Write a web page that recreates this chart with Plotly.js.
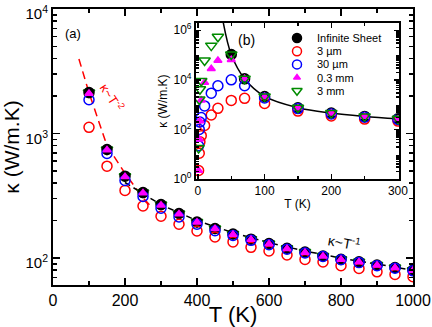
<!DOCTYPE html>
<html>
<head>
<meta charset="utf-8">
<script src="https://cdn.plot.ly/plotly-3.0.1.min.js"></script>
<style>
  html, body { margin: 0; padding: 0; background: #fff; }
  #chart { width: 432px; height: 327px; }
</style>
</head>
<body>
<div id="chart"></div>
<script>
// temperatures (K)
var temps = [1, 2, 3, 5, 10, 20, 30, 50, 70, 100, 150, 200, 250, 300, 350, 400, 450, 500,
             550, 600, 650, 700, 750, 800, 850, 900, 950, 1000];

// thermal conductivity (W/m.K)
var kInfinite = [null, null, null, null, null, null, null, 105000, 11000, 2135, 745, 455, 336, 269,
                 228, 195, 173, 156, 142, 131, 120, 112, 104, 98, 93.4, 88, 84, 80];
var k3um = [2.2, 11, 32, 56, 145, 380, 710, 1480, 1800, 1123, 548, 350, 262, 217,
            187, 165, 148, 135, 122, 114, 106, 97.6, 93, 87, 82.5, 77.6, 74, 71];
var k30um = [22, 100, 200, 300, 890, 2900, 5800, 10000, 5800, 1870, 692, 421, 313, 252,
             214, 187, 166, 152, 139, 128, 118, 110, 103, 97, 92, 87, 83, 79];
var k03mm = [2.2, 40, 220, 1500, 7900, 28000, 60000, 65000, 11000, 2100, 740, 450, 333, 266,
             226, 194, 172, 155, 141, 130, 119, 111, 103.5, 97.5, 93, 87.7, 83.7, 79.7];
var k3mm = [18, 1600, 4200, 9000, 60000, 240000, 550000, 105000, 11000, 2135, 745, 455, 336, 269,
            228, 195, 173, 156, 142, 131, 120, 112, 104, 98, 93.4, 88, 84, 80];

// guide lines
var fitT2_T = [72, 100, 150, 200, 250, 275];
var fitT2_k = [3980, 2130, 800, 480, 305, 255];
var fitT1_T = [200, 300, 400, 500, 600, 700, 800, 900, 1000];
var fitT1_k = [405, 268, 200, 160, 133, 114, 100, 89, 80];
var sheetLineT = [36, 50, 70, 100, 150, 200, 250, 300];
var sheetLineK = [4000000, 105000, 11000, 2135, 745, 455, 336, 269];

var FONT = 'Arial, "Liberation Sans", sans-serif';

var series = [
  {name: 'Infinite Sheet', k: kInfinite, sym: 'circle', size: 10, color: '#000000'},
  {name: '3 \u00b5m', k: k3um, sym: 'circle-open', size: 10, color: '#ff0000'},
  {name: '30 \u00b5m', k: k30um, sym: 'circle-open', size: 10, color: '#0000ff'},
  {name: '0.3 mm', k: k03mm, sym: 'triangle-up', size: 7, color: '#ff00ff'},
  {name: '3 mm', k: k3mm, sym: 'triangle-down-open', size: 10, color: '#008b00'}
];

// plot area in pixels, inset domain
var M = {l: 53, r: 19, t: 9, b: 42};
var PW = 432 - M.l - M.r, PH = 327 - M.t - M.b;
var insetX = [0.397, 0.961], insetY = [0.384, 0.949];

function pick(arr, lo, hi) {
  var xs = [], ys = [];
  for (var i = 0; i < temps.length; i++) {
    if (temps[i] >= lo && temps[i] <= hi && arr[i] != null) { xs.push(temps[i]); ys.push(arr[i]); }
  }
  return {x: xs, y: ys};
}

// minor log ticks 2..9 in each decade
function logMinor(d0, d1) {
  var v = [];
  for (var d = d0; d < d1; d++) for (var m = 2; m <= 9; m++) v.push(m * Math.pow(10, d));
  return v;
}

var data = [];

// main panel
data.push({x: fitT2_T, y: fitT2_k, mode: 'lines', line: {color: '#ff0000', dash: '8px,5px', width: 1.5},
           showlegend: false});
data.push({x: fitT1_T, y: fitT1_k, mode: 'lines', line: {color: '#000000', dash: '6px,4px', width: 1.5},
           showlegend: false});
[4, 0, 1, 2, 3].forEach(function (i) {
  var s = series[i], p = pick(s.k, 100, 1000);
  data.push({x: p.x, y: p.y, mode: 'markers', showlegend: false,
    marker: {symbol: s.sym, size: s.size, color: s.color, line: {color: s.color, width: 1.5}}});
});

// inset
data.push({x: sheetLineT, y: sheetLineK, xaxis: 'x2', yaxis: 'y2', mode: 'lines',
           line: {color: '#000000', width: 1.5, shape: 'spline'}, showlegend: false});
series.forEach(function (s) {
  var p = pick(s.k, 0, 300);
  data.push({x: p.x, y: p.y, xaxis: 'x2', yaxis: 'y2', mode: 'markers', name: s.name, showlegend: false,
    marker: {symbol: s.sym, size: s.size, color: s.color, line: {color: s.color, width: 1.5}}});
});

// legend of the inset (compact rows), keys drawn on a pixel-scaled overlay of the inset
var legKeyX = 297, legTextX = 315, legTop = 38, legRow = 13.2;
var inL = M.l + PW * insetX[0], inR = M.l + PW * insetX[1];
var inT = M.t + PH * (1 - insetY[1]), inB = M.t + PH * (1 - insetY[0]);
var legendSizes = [9, 9, 9, 6, 9];
series.forEach(function (s, i) {
  data.push({x: [legKeyX], y: [legTop + i * legRow], xaxis: 'x3', yaxis: 'y3', mode: 'markers',
    showlegend: false, cliponaxis: false,
    marker: {symbol: s.sym, size: legendSizes[i], color: s.color, line: {color: s.color, width: 1.5}}});
});

var axBase = {
  showline: true, linecolor: '#000', linewidth: 2, mirror: 'ticks',
  ticks: 'inside', tickcolor: '#000', tickwidth: 1.5, showgrid: false, zeroline: false,
  ticklabeloverflow: 'allow'
};

function px2paper(x, y) { return {x: (x - M.l) / PW, y: (M.t + PH - y) / PH}; }

var annotations = [
  {text: '(a)', px: 73, py: 34, size: 13, color: '#000', angle: 0},
  {text: '(b)', px: 246, py: 40, size: 14, color: '#000', angle: 0},
  {text: '\u03ba~T<sup>-2</sup>', px: 112, py: 97, size: 13, color: '#ff0000', angle: 57},
  {text: '\u03ba~T<sup>-1</sup>', px: 344, py: 242, size: 14, color: '#000', angle: 10}
].map(function (a) {
  var p = px2paper(a.px, a.py);
  return {text: a.text, x: p.x, y: p.y, xref: 'paper', yref: 'paper', xanchor: 'center', yanchor: 'middle',
          showarrow: false, textangle: a.angle, font: {size: a.size, color: a.color}};
});
series.forEach(function (s, i) {
  var p = px2paper(legTextX, legTop + i * legRow);
  annotations.push({text: s.name, x: p.x, y: p.y, xref: 'paper', yref: 'paper', xanchor: 'left',
                    yanchor: 'middle', showarrow: false, font: {size: 11, color: '#000'}});
});

var layout = {
  width: 432, height: 327,
  margin: M,
  paper_bgcolor: '#fff', plot_bgcolor: '#fff',
  font: {family: FONT, color: '#000'},
  showlegend: false,
  xaxis: Object.assign({}, axBase, {
    range: [0, 1000], dtick: 200, ticklen: 7,
    minor: {ticks: 'inside', dtick: 100, ticklen: 4, tickcolor: '#000'},
    tickfont: {size: 16},
    title: {text: 'T (K)', font: {size: 22}, standoff: 4}
  }),
  yaxis: Object.assign({}, axBase, {
    type: 'log', range: [1.784, 4.001], ticklen: 7,
    tickmode: 'array', tickvals: [100, 1000, 10000],
    ticktext: ['10<sup>2</sup>', '10<sup>3</sup>', '10<sup>4</sup>'],
    ticklabelshift: 5,
    minor: {ticks: 'inside', ticklen: 4, tickmode: 'array', tickvals: logMinor(1, 4), tickcolor: '#000'},
    tickfont: {size: 15},
    title: {text: '\u03ba (W/m.K)', font: {size: 21}, standoff: 6}
  }),
  xaxis2: Object.assign({}, axBase, {
    domain: insetX, anchor: 'y2',
    range: [-3, 301.5], dtick: 100, ticklen: 5,
    minor: {ticks: 'inside', dtick: 50, ticklen: 3, tickcolor: '#000'},
    tickfont: {size: 12},
    title: {text: 'T (K)', font: {size: 12}, standoff: 2}
  }),
  yaxis2: Object.assign({}, axBase, {
    domain: insetY, anchor: 'x2',
    type: 'log', range: [0, 6.29], ticklen: 5,
    tickmode: 'array', tickvals: [1, 100, 10000, 1000000],
    ticktext: ['10<sup>0</sup>', '10<sup>2</sup>', '10<sup>4</sup>', '10<sup>6</sup>'],
    minor: {ticks: 'inside', ticklen: 3, tickmode: 'array', tickvals: logMinor(0, 6), tickcolor: '#000'},
    tickfont: {size: 12},
    title: {text: '\u03ba (W/m.K)', font: {size: 12}, standoff: 3}
  }),
  xaxis3: {overlaying: 'x2', anchor: 'y3', range: [inL, inR], visible: false, fixedrange: true},
  yaxis3: {overlaying: 'y2', anchor: 'x3', range: [inB, inT], visible: false, fixedrange: true},
  annotations: annotations
};

Plotly.newPlot('chart', data, layout, {displayModeBar: false, staticPlot: true});
</script>
</body>
</html>
